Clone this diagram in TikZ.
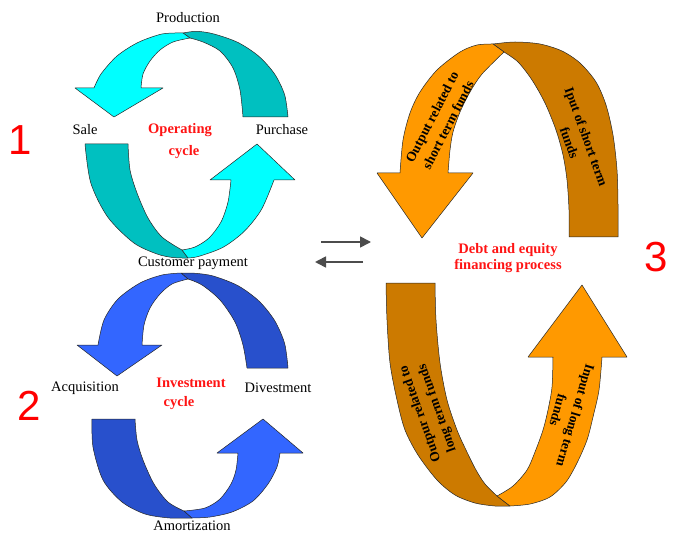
\documentclass[tikz,border=0pt]{standalone}
\usepackage{fontspec}
\setmainfont{Liberation Serif}
\newfontfamily\numfont{Liberation Sans}
\usetikzlibrary{arrows.meta}
\definecolor{cyanlight}{RGB}{0,255,255}
\definecolor{cyandark}{RGB}{0,192,192}
\definecolor{bluelight}{RGB}{51,102,255}
\definecolor{bluedark}{RGB}{40,80,204}
\definecolor{orangelight}{RGB}{255,153,0}
\definecolor{orangedark}{RGB}{204,122,0}
\definecolor{labelred}{RGB}{255,20,20}
\tikzset{
  band/.style={draw=black!85, line width=0.5pt, line join=round},
  lbl/.style={font=\fontsize{14.5}{17}\selectfont, inner sep=0pt, text=black},
  redlbl/.style={font=\fontsize{14.5}{17}\selectfont\bfseries, inner sep=0pt, text=labelred, align=center},
  bandtext/.style={font=\fontsize{13.5}{18}\selectfont\bfseries, inner sep=0pt, align=center, text=black},
  bignum/.style={font=\fontsize{42}{42}\selectfont\numfont, text=red, inner sep=0pt},
  midarrow/.style={draw=black!70, line width=1.6pt, -{Triangle[length=11pt,width=11pt]}, shorten >=0pt}
}
\begin{document}
\begin{tikzpicture}[x=1pt,y=-1pt]
\useasboundingbox (0,0) rectangle (676,534);
\fill[white] (0,0) rectangle (676,534);

% ===== Cycle 1: operating cycle =====
\filldraw[band, fill=cyandark] plot[smooth] coordinates {(183,33) (196.7,31.3) (214,34) (238,42.5) (258.7,56.2) (274.6,74) (284.6,94.7) (288,117)}
  -- plot[smooth] coordinates {(243,117) (240,90) (233,68) (220,51) (203,42) (190,38)} -- cycle;
\filldraw[band, fill=cyanlight] plot[smooth] coordinates {(183,33) (162,34) (138,42.5) (117,56) (101,74) (94,88)}
  -- (75,88) -- (114,117) -- (163,88) -- (141,88)
  -- plot[smooth] coordinates {(141,88) (143,74) (150,61) (160,50) (173,42) (190,38)} -- cycle;
\filldraw[band, fill=cyandark] plot[smooth] coordinates {(85,144) (90.8,183) (107.7,217) (133.5,242.7) (157,254) (173.5,257.6) (188,258)}
  -- plot[smooth] coordinates {(182,250) (162,237) (148,218) (137,193) (130,170) (128,144)} -- cycle;
\filldraw[band, fill=cyanlight] plot[smooth] coordinates {(188,258) (199,256.3) (223,247.3) (244.3,231.3) (261.5,209.4) (274,180)}
  -- (295,180) -- (257,144) -- (210,180) -- (231,180)
  -- plot[smooth] coordinates {(231,180) (228,202) (221,222) (209,238) (195,247) (182,250)} -- cycle;

% ===== Cycle 2: investment cycle =====
\filldraw[band, fill=bluedark] plot[smooth] coordinates {(181,273) (196.7,273.4) (213.9,276.2) (238,285.7) (258.7,300.8) (274.6,320.5) (284.6,343.4) (288,368)}
  -- plot[smooth] coordinates {(247,368) (243,345) (235,322) (220,300) (202,285) (188,279)} -- cycle;
\filldraw[band, fill=bluelight] plot[smooth] coordinates {(181,273) (162,275) (140,283) (118,299) (104,320) (98,345)}
  -- (77,345) -- (117,376) -- (162,345) -- (142,345)
  -- plot[smooth] coordinates {(142,345) (144,325) (150,308) (160,294) (172,284) (188,279)} -- cycle;
\filldraw[band, fill=bluedark] plot[smooth] coordinates {(92,419) (93,447) (103,480) (122,502) (145,514) (170,518) (192,518)}
  -- plot[smooth] coordinates {(184,511) (168,502) (154,484) (143,460) (137,440) (135,419)} -- cycle;
\filldraw[band, fill=bluelight] plot[smooth] coordinates {(192,518) (210,517) (232,512) (253,501) (268,484) (277,467) (280,453)}
  -- (303,453) -- (263,419) -- (217,453) -- (238,453)
  -- plot[smooth] coordinates {(238,453) (236,470) (231,484) (220,499) (205,508) (184,511)} -- cycle;

% ===== Cycle 3: financing process =====
\filldraw[band, fill=orangedark] plot[smooth] coordinates {(493,44) (515,42) (540,44) (562,51) (580,63) (596,82) (606,105) (613,135) (617,170) (618,205) (618,237)}
  -- plot[smooth] coordinates {(569,237) (569,210) (567,180) (563,155) (556,130) (545,103) (532,80) (518,62) (504,52)} -- cycle;
\filldraw[band, fill=orangelight] plot[smooth] coordinates {(493,44) (477,45) (460,52) (437,70) (420,92) (410,113) (403,140) (400,173)}
  -- (377,173) -- (422,238) -- (473,173) -- (448,173)
  -- plot[smooth] coordinates {(448,173) (450,150) (453,132) (460,112) (470,92) (482,74) (504,52)} -- cycle;
\filldraw[band, fill=orangedark] plot[smooth] coordinates {(386,283) (387,320) (390,363) (397,400) (405,430) (418,455) (437,480) (455,495) (475,503) (495,506) (510,506)}
  -- plot[smooth] coordinates {(497,496) (485,484) (476,470) (466,450) (457,430) (447,400) (440,363) (436,320) (435,283)} -- cycle;
\filldraw[band, fill=orangelight] plot[smooth] coordinates {(510,506) (530,504) (550,497) (566,482) (577,463) (587,440) (593,417) (599,390) (602,357)}
  -- (627,357) -- (582,285) -- (528,357) -- (553,357)
  -- plot[smooth] coordinates {(553,357) (552,387) (548,410) (543,430) (535,452) (527,470) (513,486) (497,496)} -- cycle;

% ===== texts in the bands =====
\node[bandtext, rotate=62.7] (tout1) at (440,121) {Output related to\\short term funds};
\node[bandtext, rotate=-70.2] (tin1) at (578,140) {Iput of short term\\funds};
\node[bandtext, rotate=109.5] (tout2) at (429,411) {Outpur related to\\long term funds};
\node[bandtext, rotate=-106.3] (tin2) at (567,413) {Input of long term\\funds};

% ===== labels =====
\node[lbl] (production) at (188,18) {Production};
\node[lbl] (sale) at (85,130) {Sale};
\node[lbl] (purchase) at (282,130) {Purchase};
\node[lbl] (custpay) at (193,263) {Customer payment};
\node[lbl] (acquisition) at (85,388) {Acquisition};
\node[lbl] (divestment) at (278,388) {Divestment};
\node[lbl] (amortization) at (192,526) {Amortization};

\node[redlbl] (op1) at (180,130) {Operating};
\node[redlbl] (op2) at (184,152) {cycle};
\node[redlbl] (inv1) at (191,383) {Investment};
\node[redlbl] (inv2) at (179,403) {cycle};
\node[redlbl, font=\fontsize{14.5}{16}\selectfont\bfseries] (debt) at (508,258) {Debt and equity\\financing process};

\node[bignum] (n1) at (20,140) {1};
\node[bignum] (n2) at (29,406) {2};
\node[bignum] (n3) at (656,257) {3};

% ===== middle arrows =====
\coordinate (ra) at (321,242);
\coordinate (rb) at (371,242);
\coordinate (la) at (363,262);
\coordinate (lb) at (315,262);
\draw[midarrow] (ra) -- (rb);
\draw[midarrow] (la) -- (lb);
\end{tikzpicture}
\end{document}
